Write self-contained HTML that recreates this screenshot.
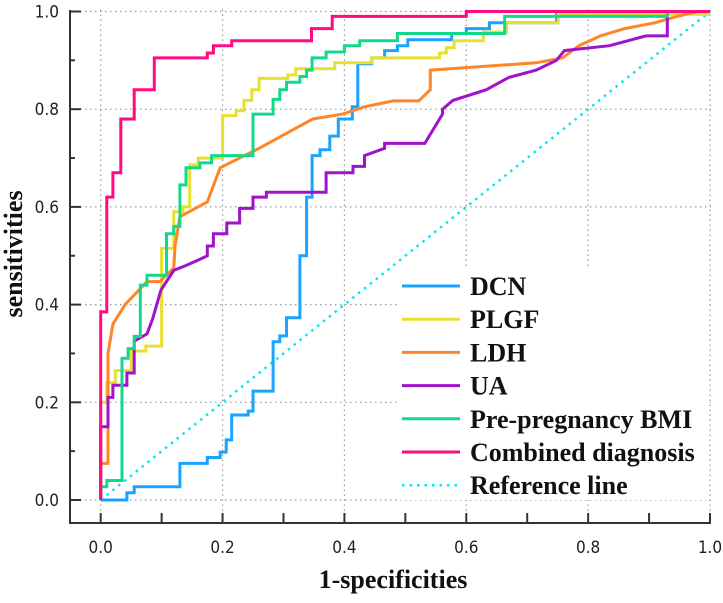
<!DOCTYPE html>
<html><head><meta charset="utf-8"><style>
body{margin:0;background:#fff;}
svg{display:block;}
.tl{font-family:"DejaVu Sans Condensed","Liberation Sans",sans-serif;font-size:17px;fill:#222;}
.lg{font-family:"Liberation Serif",serif;font-weight:bold;font-size:26px;fill:#111;}
.ax{font-family:"Liberation Serif",serif;font-weight:bold;font-size:26px;fill:#111;}
</style></head><body>
<svg id="chart" width="723" height="603"></svg>
<script>
const seriesNames=["DCN","PLGF","LDH","UA","Pre-pregnancy BMI","Combined diagnosis"];
const seriesColors=["#1aa3ff","#e8e030","#ff8526","#a012cc","#12d98a","#ff0a80"];
const dcnX=[0,0.043,0.043,0.055,0.055,0.13,0.13,0.175,0.175,0.196,0.196,0.206,0.206,0.215,0.215,0.242,0.242,0.25,0.25,0.283,0.283,0.294,0.294,0.305,0.305,0.327,0.327,0.338,0.338,0.347,0.347,0.36,0.36,0.376,0.376,0.39,0.39,0.413,0.413,0.422,0.422,0.445,0.445,0.466,0.466,0.487,0.487,0.504,0.504,0.576,0.576,0.6,0.6,0.638,0.638,0.748,0.748,0.78,0.78,0.8,0.8,1.0];
const dcnY=[0,0,0.015,0.015,0.027,0.027,0.075,0.075,0.087,0.087,0.098,0.098,0.123,0.123,0.174,0.174,0.182,0.182,0.223,0.223,0.324,0.324,0.336,0.336,0.373,0.373,0.5,0.5,0.62,0.62,0.705,0.705,0.717,0.717,0.745,0.745,0.78,0.78,0.805,0.805,0.893,0.893,0.905,0.905,0.92,0.92,0.93,0.93,0.942,0.942,0.955,0.955,0.965,0.965,0.977,0.977,0.994,0.994,1.0,1.0];
const plgfX=[0,0,0.01,0.01,0.024,0.024,0.05,0.05,0.074,0.074,0.1,0.1,0.12,0.12,0.135,0.135,0.146,0.146,0.16,0.16,0.2,0.2,0.222,0.222,0.235,0.235,0.248,0.248,0.26,0.26,0.307,0.307,0.32,0.32,0.384,0.384,0.445,0.445,0.556,0.556,0.567,0.567,0.58,0.58,0.628,0.628,0.666,0.666,0.751,0.751,1.0];
const plgfY=[0,0.2,0.2,0.24,0.24,0.265,0.265,0.305,0.305,0.315,0.315,0.515,0.515,0.59,0.59,0.6,0.6,0.686,0.686,0.70,0.70,0.787,0.787,0.797,0.797,0.818,0.818,0.84,0.84,0.863,0.863,0.87,0.87,0.883,0.883,0.895,0.895,0.905,0.905,0.915,0.915,0.926,0.926,0.94,0.94,0.958,0.958,0.977,0.977,0.994,0.994];
const ldhX=[0,0,0.012,0.012,0.02,0.04,0.076,0.097,0.12,0.122,0.13,0.175,0.196,0.26,0.348,0.397,0.433,0.48,0.522,0.541,0.541,0.715,0.758,0.785,0.82,0.86,0.91,0.946,0.98,1.0];
const ldhY=[0,0.075,0.075,0.3,0.36,0.4,0.447,0.447,0.475,0.52,0.58,0.61,0.68,0.72,0.78,0.79,0.805,0.817,0.817,0.84,0.88,0.895,0.905,0.93,0.95,0.965,0.977,0.99,1.0,1.0];
const uaX=[0,0,0.012,0.012,0.02,0.02,0.043,0.043,0.055,0.055,0.076,0.085,0.099,0.099,0.12,0.14,0.158,0.175,0.175,0.185,0.185,0.207,0.207,0.228,0.228,0.25,0.25,0.272,0.272,0.37,0.37,0.414,0.414,0.433,0.433,0.466,0.466,0.494,0.532,0.561,0.561,0.578,0.633,0.67,0.715,0.748,0.761,0.835,0.895,0.93,0.93,1.0];
const uaY=[0,0.15,0.15,0.21,0.21,0.235,0.235,0.26,0.26,0.325,0.34,0.37,0.43,0.43,0.47,0.48,0.49,0.5,0.52,0.52,0.545,0.545,0.567,0.567,0.597,0.597,0.62,0.62,0.63,0.63,0.67,0.67,0.683,0.683,0.705,0.72,0.73,0.73,0.73,0.79,0.80,0.818,0.84,0.865,0.88,0.9,0.92,0.93,0.95,0.95,1.0,1.0];
const bmiX=[0,0,0.01,0.01,0.035,0.035,0.045,0.045,0.055,0.055,0.065,0.065,0.076,0.076,0.108,0.108,0.12,0.12,0.13,0.13,0.14,0.14,0.163,0.163,0.182,0.182,0.25,0.25,0.283,0.283,0.294,0.294,0.305,0.305,0.327,0.327,0.338,0.338,0.347,0.347,0.37,0.37,0.4,0.4,0.425,0.425,0.487,0.487,0.663,0.663,0.93,0.93,1.0];
const bmiY=[0,0.027,0.027,0.04,0.04,0.29,0.29,0.31,0.31,0.335,0.335,0.44,0.44,0.46,0.46,0.545,0.545,0.56,0.56,0.645,0.645,0.68,0.68,0.69,0.69,0.705,0.705,0.79,0.79,0.82,0.82,0.84,0.84,0.855,0.855,0.867,0.867,0.88,0.88,0.905,0.905,0.917,0.917,0.93,0.93,0.94,0.94,0.955,0.955,0.99,0.99,1.0,1.0];
const combX=[0,0,0.01,0.01,0.02,0.02,0.033,0.033,0.055,0.055,0.088,0.088,0.175,0.175,0.185,0.185,0.215,0.215,0.346,0.346,0.38,0.38,0.6,0.6,1.0];
const combY=[0,0.385,0.385,0.62,0.62,0.67,0.67,0.78,0.78,0.84,0.84,0.905,0.905,0.915,0.915,0.93,0.93,0.94,0.94,0.965,0.965,0.99,0.99,1.0,1.0];
const xTicks=["0.0","0.2","0.4","0.6","0.8","1.0"];
const yTicks=["0.0","0.2","0.4","0.6","0.8","1.0"];

const X0=100.7,X1=710,Y0=500,Y1=11.5;
const sx=v=>X0+v*(X1-X0);
const sy=v=>Y0-v*(Y0-Y1);
const svg=document.getElementById('chart');
const NS='http://www.w3.org/2000/svg';
function mk(tag,attrs,parent){const e=document.createElementNS(NS,tag);for(const k in attrs)e.setAttribute(k,attrs[k]);(parent||svg).appendChild(e);return e;}

for(let i=0;i<=5;i++){
  const v=i*0.2;
  const g1=mk('line',{x1:sx(v),x2:sx(v),y1:Y1-2,y2:523,stroke:'#999','stroke-width':1.2,'stroke-dasharray':'1.5 3.5'});
  
  
  const g2=mk('line',{x1:75,x2:711,y1:sy(v),y2:sy(v),stroke:'#999','stroke-width':1.2,'stroke-dasharray':'1.5 3.5'});
  
  
}
const ref=mk('line',{x1:sx(0),y1:sy(0),x2:sx(1),y2:sy(1),stroke:'#00e8f0','stroke-width':2.5,'stroke-dasharray':'2.5 5'});



const xs=[dcnX,plgfX,ldhX,uaX,bmiX,combX];
const ys=[dcnY,plgfY,ldhY,uaY,bmiY,combY];
for(let s=0;s<6;s++){
  const pts=xs[s].map((x,i)=>sx(x).toFixed(1)+','+sy(ys[s][i]).toFixed(1)).join(' ');
  const p=mk('polyline',{points:pts,fill:'none',stroke:seriesColors[s],'stroke-width':3,'stroke-linejoin':'miter'});
  
  
}

const ya=mk('line',{x1:70,x2:70,y1:10,y2:524,stroke:'#333','stroke-width':2});


const xa=mk('line',{x1:69,x2:711,y1:523,y2:523,stroke:'#333','stroke-width':2});


for(let i=0;i<=10;i++){
  const v=i/10;
  const tx=mk('line',{x1:sx(v),x2:sx(v),y1:523,y2:513,stroke:'#333','stroke-width':2});
  
  
  const ty=mk('line',{x1:70,x2:i%2===0?81:75,y1:sy(v),y2:sy(v),stroke:'#333','stroke-width':2});
  
  
}
xTicks.forEach((t,i)=>{
  const e=mk('text',{x:sx(i*0.2),y:553,'text-anchor':'middle',class:'tl'});
  e.textContent=t;
  
  
});
yTicks.forEach((t,i)=>{
  const e=mk('text',{x:59,y:sy(i*0.2)+6,'text-anchor':'end',class:'tl'});
  e.textContent=t;
  
  
});
const xt=mk('text',{x:393,y:588,'text-anchor':'middle',class:'ax'});
xt.textContent='1-specificities';


const yt=mk('text',{x:0,y:0,'text-anchor':'middle',class:'ax',transform:'translate(22,254) rotate(-90)'});
yt.textContent='sensitivities';



const lg=mk('g',{});


mk('rect',{x:398,y:268,width:310,height:232,fill:'#fff'},lg);
const names=seriesNames.concat(["Reference line"]);
const cols=seriesColors.concat(["#00e8f0"]);
names.forEach((n,i)=>{
  const yy=286+i*33.2;
  const g=mk('g',{},lg);
  
  
  const l=mk('line',{x1:402,x2:460,y1:yy,y2:yy,stroke:cols[i],'stroke-width':3},g);
  if(i===6){l.setAttribute('stroke-dasharray','2.5 5');l.setAttribute('stroke-width','2.5');}
  const t=mk('text',{x:470,y:yy+9,class:'lg'},g);
  t.textContent=n;
});
</script>
</body></html>
